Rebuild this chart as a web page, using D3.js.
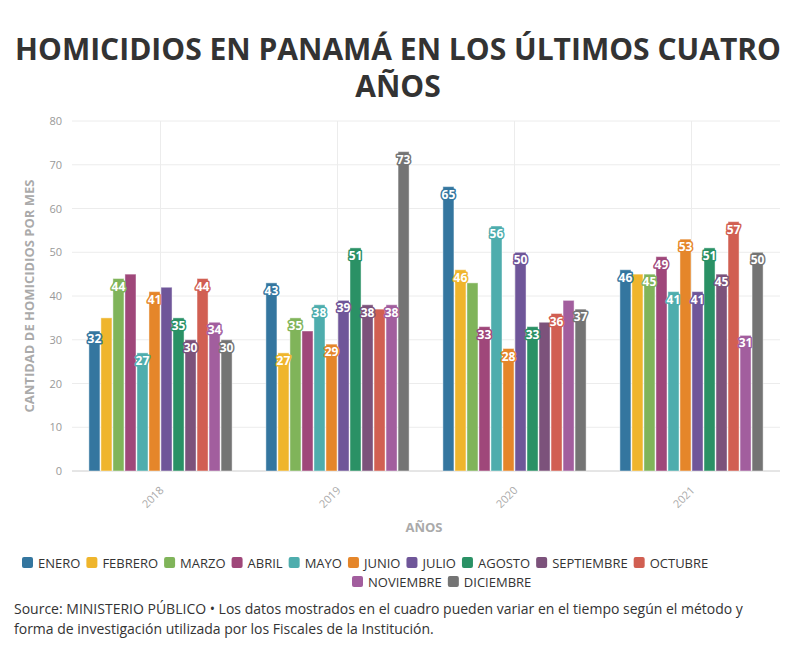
<!DOCTYPE html>
<html><head><meta charset="utf-8">
<script src="https://cdn.jsdelivr.net/npm/d3@7"></script>
<style>body{margin:0;background:#fff;font-family:"Source Sans Pro","Open Sans",sans-serif}</style>
</head><body><svg id="c" width="796" height="650"></svg>
<script>
const years=["2018","2019","2020","2021"];
const months=["ENERO","FEBRERO","MARZO","ABRIL","MAYO","JUNIO","JULIO","AGOSTO","SEPTIEMBRE","OCTUBRE","NOVIEMBRE","DICIEMBRE"];
const colors=["#34769f","#efb52c","#80b45a","#9f477a","#4eadad","#e5862a","#6f5699","#2a9165","#7c527b","#d15f52","#a25e9e","#747474"];
const v2018=[32,35,44,45,27,41,42,35,30,44,34,30];
const v2019=[43,27,35,32,38,29,39,51,38,37,38,73];
const v2020=[65,46,43,33,56,28,50,33,34,36,39,37];
const v2021=[46,45,45,49,41,53,41,51,45,57,31,50];
const lab2018=[1,0,1,0,1,1,0,1,1,1,1,1];
const lab2019=[1,1,1,0,1,1,1,1,1,0,1,1];
const lab2020=[1,1,0,1,1,1,1,1,0,1,0,1];
const lab2021=[1,0,1,1,1,1,1,1,1,1,1,1];
const values=[v2018,v2019,v2020,v2021], labs=[lab2018,lab2019,lab2020,lab2021];
const yTicks=[0,10,20,30,40,50,60,70,80];

const svg=d3.select("#c");
const L=72,R=780,T=121,B=471;
const x0=d3.scaleBand().domain(years).range([L,R]).paddingInner(0.18).paddingOuter(0.09);
const x1=d3.scaleBand().domain(months).range([0,x0.bandwidth()]).padding(0.08);
const y=d3.scaleLinear().domain([0,80]).range([B,T]);

svg.append("text").attr("x",398).attr("y",60).attr("text-anchor","middle").attr("font-size",30).attr("font-weight",700).attr("fill","#333").text("HOMICIDIOS EN PANAMÁ EN LOS ÚLTIMOS CUATRO");
svg.append("text").attr("x",398).attr("y",97).attr("text-anchor","middle").attr("font-size",30).attr("font-weight",700).attr("fill","#333").text("AÑOS");

const g=svg.append("g");
yTicks.forEach(t=>{g.append("line").attr("x1",L).attr("x2",R).attr("y1",y(t)).attr("y2",y(t)).attr("stroke",t?"#ececec":"#ccc");
 g.append("text").attr("x",L-10).attr("y",y(t)+4).attr("text-anchor","end").attr("font-size",11).attr("fill","#999").text(t);});
years.forEach(yr=>{const cx=x0(yr)+x0.bandwidth()/2;
 g.append("line").attr("x1",cx).attr("x2",cx).attr("y1",T).attr("y2",B).attr("stroke","#ececec");
 g.append("text").attr("transform",`translate(${cx+4},${B+20}) rotate(-45)`).attr("text-anchor","end").attr("font-size",11).attr("fill","#aaa").text(yr);});

years.forEach((yr,i)=>{values[i].forEach((v,j)=>{
 const bx=x0(yr)+x1(months[j]);
 g.append("rect").attr("x",bx).attr("y",y(v)).attr("width",x1.bandwidth()).attr("height",B-y(v)).attr("fill",colors[j]).attr("stroke","rgba(255,255,255,0.45)").attr("stroke-width",1);
});});
years.forEach((yr,i)=>{values[i].forEach((v,j)=>{
 if(!labs[i][j])return;
 const cx=x0(yr)+x1(months[j])+x1.bandwidth()/2;
 g.append("text").attr("x",cx).attr("y",y(v)+12).attr("text-anchor","middle").attr("font-size",12).attr("font-weight",700)
  .attr("fill","#fff").attr("stroke",colors[j]).attr("stroke-width",3).attr("paint-order","stroke").attr("stroke-linejoin","round").text(v);
});});

svg.append("text").attr("transform",`translate(34,${(T+B)/2}) rotate(-90)`).attr("text-anchor","middle").attr("font-size",13).attr("font-weight",700).attr("fill","#aaa").text("CANTIDAD DE HOMICIDIOS POR MES");
svg.append("text").attr("x",424).attr("y",532).attr("text-anchor","middle").attr("font-size",13).attr("font-weight",700).attr("fill","#aaa").text("AÑOS");

// legend
const lg=svg.append("g");
let lx=22, ly=563;
months.forEach((m,j)=>{
 const tmp=lg.append("text").attr("font-size",13).attr("fill","#333").text(m);
 const w=tmp.node().getComputedTextLength()+22;
 if(lx+w>790){lx=352;ly+=19;}
 tmp.attr("x",lx+16).attr("y",ly+5);
 lg.append("rect").attr("x",lx).attr("y",ly-6).attr("width",11).attr("height",11).attr("rx",2).attr("fill",colors[j]);
 lx+=w;
});
svg.append("text").attr("x",14).attr("y",614).attr("font-size",14).attr("fill","#333").text("Source: MINISTERIO PÚBLICO • Los datos mostrados en el cuadro pueden variar en el tiempo según el método y");
svg.append("text").attr("x",14).attr("y",634).attr("font-size",14).attr("fill","#333").text("forma de investigación utilizada por los Fiscales de la Institución.");
</script></body></html>
